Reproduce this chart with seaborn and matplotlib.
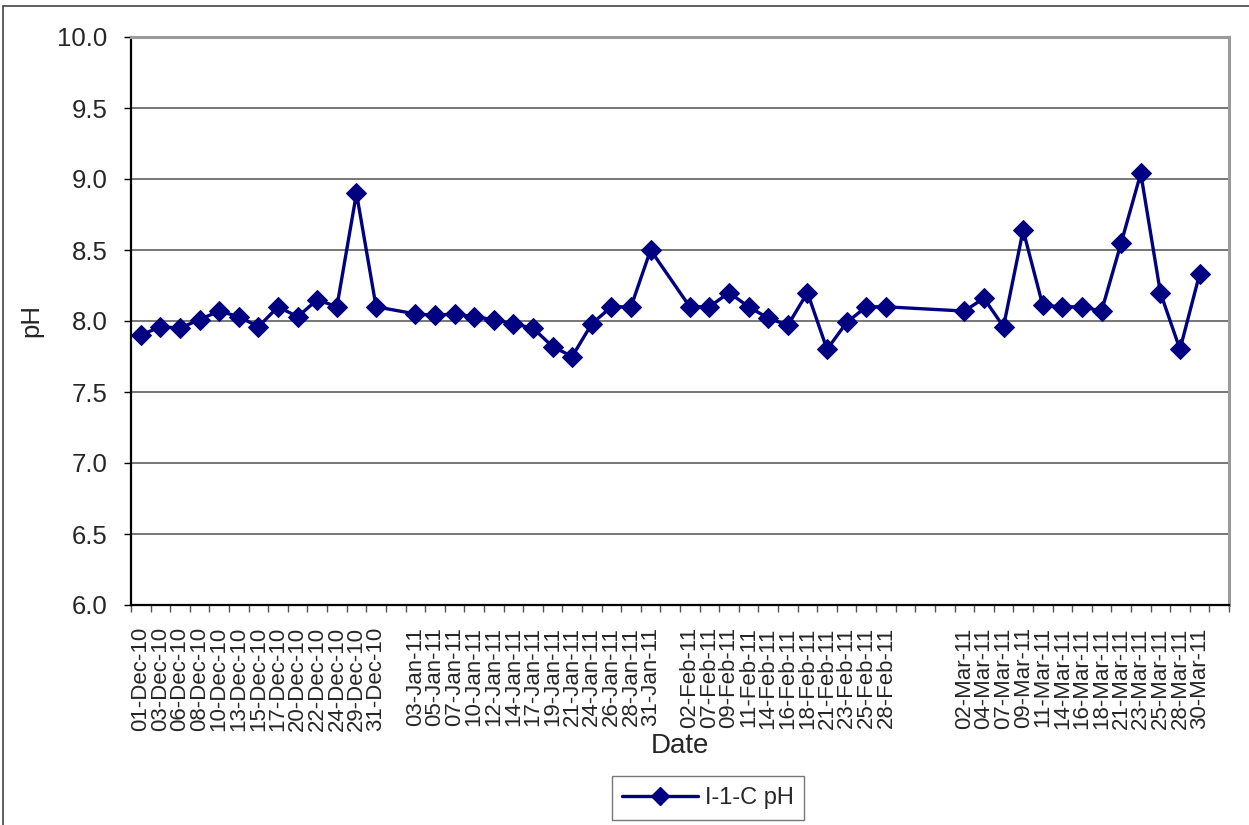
import numpy as np
import pandas as pd
import matplotlib
matplotlib.use("Agg")
import matplotlib.pyplot as plt
from matplotlib.lines import Line2D
from matplotlib.ticker import FixedLocator, NullFormatter
import seaborn as sns

sns.set_theme(style="white")
plt.rcParams['font.family'] = ['Liberation Sans', 'DejaVu Sans']

dates = [
    "01-Dec-10", "03-Dec-10", "06-Dec-10", "08-Dec-10", "10-Dec-10", "13-Dec-10",
    "15-Dec-10", "17-Dec-10", "20-Dec-10", "22-Dec-10", "24-Dec-10", "29-Dec-10",
    "31-Dec-10", "",
    "03-Jan-11", "05-Jan-11", "07-Jan-11", "10-Jan-11", "12-Jan-11", "14-Jan-11",
    "17-Jan-11", "19-Jan-11", "21-Jan-11", "24-Jan-11", "26-Jan-11", "28-Jan-11",
    "31-Jan-11", "",
    "02-Feb-11", "07-Feb-11", "09-Feb-11", "11-Feb-11", "14-Feb-11", "16-Feb-11",
    "18-Feb-11", "21-Feb-11", "23-Feb-11", "25-Feb-11", "28-Feb-11", "", "", "",
    "02-Mar-11", "04-Mar-11", "07-Mar-11", "09-Mar-11", "11-Mar-11", "14-Mar-11",
    "16-Mar-11", "18-Mar-11", "21-Mar-11", "23-Mar-11", "25-Mar-11", "28-Mar-11",
    "30-Mar-11", "",
]

ph = [
    7.90, 7.96, 7.95, 8.01, 8.07, 8.03, 7.96, 8.10, 8.03, 8.15, 8.10, 8.90, 8.10, np.nan,
    8.05, 8.04, 8.05, 8.03, 8.01, 7.98, 7.95, 7.82, 7.75, 7.98, 8.10, 8.10, 8.50, np.nan,
    8.10, 8.10, 8.20, 8.10, 8.02, 7.97, 8.20, 7.80, 7.99, 8.10, 8.10, np.nan, np.nan, np.nan,
    8.07, 8.16, 7.96, 8.64, 8.11, 8.10, 8.10, 8.07, 8.55, 9.04, 8.20, 7.80, 8.33, np.nan,
]

series_name = "I-1-C pH"
y_ticks = [6.0, 6.5, 7.0, 7.5, 8.0, 8.5, 9.0, 9.5, 10.0]

df = pd.DataFrame({"pos": np.arange(len(dates)), "date": dates, "ph": ph})
df_valid = df.dropna(subset=["ph"])

W, H = 1249, 825
fig = plt.figure(figsize=(W / 100, H / 100), dpi=100)
fig.patch.set_facecolor("white")
ax = fig.add_axes([131 / W, 1 - 605 / H, (1229 - 131) / W, (605 - 37) / H])

navy = "#000080"
sns.lineplot(data=df_valid, x="pos", y="ph", ax=ax, color=navy, linewidth=2.4,
             marker="D", markersize=10.5, markeredgecolor=navy, markerfacecolor=navy,
             label=series_name, legend=False, sort=True)

n = len(dates)
ax.set_xlim(-0.5, n - 0.5)
ax.set_ylim(6.0, 10.0)

# y axis
ax.set_yticks(y_ticks)
ax.set_yticklabels([f"{v:.1f}" for v in y_ticks], fontsize=18.5)
ax.yaxis.grid(True, color="#5f5f5f", linewidth=1.2)
ax.set_axisbelow(True)
ax.tick_params(axis="y", direction="out", length=5, width=1, color="black", pad=12, left=True)

# x axis: labels at centers, ticks at boundaries
ax.set_xticks(df["pos"].values)
ax.set_xticklabels(dates, rotation=90, fontsize=16)
ax.tick_params(axis="x", which="major", length=0, pad=16)
ax.xaxis.set_minor_locator(FixedLocator(np.arange(-0.5, n, 1.0)))
ax.xaxis.set_minor_formatter(NullFormatter())
ax.tick_params(axis="x", which="minor", direction="out", length=5, width=1, color="#555555", bottom=True)

ax.set_xlabel("Date", fontsize=20, labelpad=1)
ax.set_ylabel("pH", fontsize=18.5, labelpad=10)

for side in ["left", "bottom"]:
    ax.spines[side].set_color("black")
    ax.spines[side].set_linewidth(1.6)
for side in ["top", "right"]:
    ax.spines[side].set_color("#9a9a9a")
    ax.spines[side].set_linewidth(2.2)
    ax.spines[side].set_visible(True)

# legend
handle = Line2D([0], [0], color=navy, linewidth=2.4, marker="D", markersize=9.5,
                markerfacecolor=navy, markeredgecolor=navy)
leg = fig.legend([handle], [series_name], loc="center",
                 bbox_to_anchor=(708 / W, 1 - 798 / H), fontsize=17,
                 frameon=True, fancybox=False, handlelength=3.2,
                 borderpad=0.45, handletextpad=0.3)
leg.get_frame().set_edgecolor("#555555")
leg.get_frame().set_linewidth(1.0)

# outer chart frame (left and top edges visible)
fig.add_artist(Line2D([3.5 / W, 3.5 / W], [0, 1 - 6 / H], color="#444444", linewidth=1.2,
                      transform=fig.transFigure))
fig.add_artist(Line2D([3.5 / W, 1.0], [1 - 6 / H, 1 - 6 / H], color="#444444", linewidth=1.2,
                      transform=fig.transFigure))

fig.savefig("out.png", dpi=100)
